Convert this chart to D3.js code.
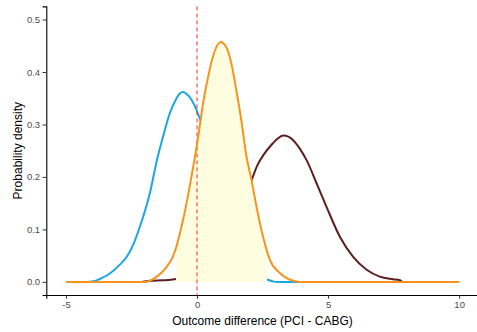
<!DOCTYPE html>
<html>
<head>
<meta charset="utf-8">
<script src="https://cdn.jsdelivr.net/npm/d3@7"></script>
<style>
  body { margin: 0; background: #fff; }
  text { font-family: "Liberation Sans", Arial, sans-serif; }
</style>
</head>
<body>
<svg id="chart"></svg>
<script>
// density curves: [outcome difference, density]
const priorDensity = [
  [-5, 0], [-4.2, 0], [-3.96, 0.001], [-3.6, 0.008], [-3.3, 0.017], [-3.0, 0.03],
  [-2.68, 0.048], [-2.4, 0.075], [-2.18, 0.105], [-2.0, 0.133], [-1.8, 0.169],
  [-1.53, 0.232], [-1.3, 0.276], [-1.04, 0.321], [-0.8, 0.348], [-0.66, 0.359],
  [-0.53, 0.362], [-0.4, 0.358], [-0.28, 0.352], [-0.09, 0.336], [0.1, 0.312],
  [0.3, 0.28], [0.6, 0.22], [1.0, 0.15], [1.5, 0.075], [2.0, 0.03], [2.4, 0.01],
  [2.7, 0.004], [2.9, 0.001], [3.1, 0], [10, 0]
];

const likelihoodDensity = [
  [-5, 0], [-2.1, 0], [-1.95, 0.001], [-1.8, 0.002], [-1.3, 0.003], [-0.85, 0.005],
  [-0.4, 0.015], [0, 0.03], [0.5, 0.055], [1.0, 0.09], [1.5, 0.135], [2.08, 0.194],
  [2.3, 0.222], [2.55, 0.243], [2.8, 0.259], [3.05, 0.272], [3.3, 0.279],
  [3.67, 0.27], [3.92, 0.254], [4.18, 0.232], [4.56, 0.188], [4.94, 0.143],
  [5.45, 0.086], [5.95, 0.048], [6.47, 0.023], [6.97, 0.01], [7.48, 0.005],
  [7.74, 0.003], [7.85, 0], [10, 0]
];

const posteriorDensity = [
  [-5, 0], [-2.0, 0], [-1.87, 0.001], [-1.53, 0.01], [-1.15, 0.029], [-0.92, 0.048],
  [-0.8, 0.065], [-0.68, 0.087], [-0.4, 0.15], [-0.25, 0.19], [-0.09, 0.235],
  [0.04, 0.275], [0.23, 0.34], [0.42, 0.39], [0.61, 0.43], [0.9, 0.457],
  [1.12, 0.447], [1.31, 0.416], [1.5, 0.365], [1.69, 0.308], [1.89, 0.238],
  [2.08, 0.194], [2.27, 0.143], [2.52, 0.086], [2.78, 0.042], [3.16, 0.017],
  [3.67, 0.002], [3.9, 0], [10, 0]
];

// shaded interval under the posterior
const interval = [-0.8, 2.67];

const xTicks = [-5, 0, 5, 10];
const yTicks = [0, 0.1, 0.2, 0.3, 0.4, 0.5];

const width = 477, height = 332;

const svg = d3.select("#chart")
  .attr("width", width)
  .attr("height", height);

const x = d3.scaleLinear().domain([-5.75, 10.75]).range([46.3, 478.8]);
const y = d3.scaleLinear().domain([-0.025, 0.525]).range([295, 6.4]);

const line = d3.line()
  .x(d => x(d[0]))
  .y(d => y(d[1]))
  .curve(d3.curveMonotoneX);

const area = d3.area()
  .x(d => x(d[0]))
  .y0(y(0))
  .y1(d => y(d[1]))
  .curve(d3.curveMonotoneX);

/* -------------------------
   CURVES
-------------------------- */

svg.append("path")
  .attr("d", line(priorDensity))
  .attr("fill", "none")
  .attr("stroke", "#1ba6e3")
  .attr("stroke-width", 2);

svg.append("path")
  .attr("d", line(likelihoodDensity))
  .attr("fill", "none")
  .attr("stroke", "#5e1f1f")
  .attr("stroke-width", 2);

svg.append("clipPath")
  .attr("id", "interval-clip")
  .append("rect")
  .attr("x", x(interval[0]))
  .attr("y", 0)
  .attr("width", x(interval[1]) - x(interval[0]))
  .attr("height", height);

svg.append("path")
  .attr("d", area(posteriorDensity))
  .attr("clip-path", "url(#interval-clip)")
  .attr("fill", "#fffddf");

svg.append("line")
  .attr("x1", x(0)).attr("x2", x(0))
  .attr("y1", y.range()[1]).attr("y2", y.range()[0])
  .attr("stroke", "#e8322f")
  .attr("stroke-width", 1)
  .attr("stroke-dasharray", "4,3");

svg.append("path")
  .attr("d", line(posteriorDensity))
  .attr("fill", "none")
  .attr("stroke", "#f7931e")
  .attr("stroke-width", 2);

/* -------------------------
   AXES
-------------------------- */

const xAxis = svg.append("g")
  .attr("transform", `translate(0,${y.range()[0]})`)
  .call(d3.axisBottom(x).tickValues(xTicks).tickSize(3.7).tickPadding(3)
    .tickFormat(d => d < 0 ? "-" + Math.abs(d) : d));

const yAxis = svg.append("g")
  .attr("transform", `translate(${x.range()[0]},0)`)
  .call(d3.axisLeft(y).tickValues(yTicks).tickSize(3.7).tickPadding(2.5)
    .tickFormat(d3.format(".1f")));

[xAxis, yAxis].forEach(g => {
  g.select(".domain").attr("stroke", "#000").attr("stroke-width", 1.1);
  g.selectAll(".tick line").attr("stroke", "#333");
  g.selectAll(".tick text")
    .attr("fill", "#4d4d4d")
    .style("font-size", "9.5px");
});

svg.append("text")
  .attr("x", (x.range()[0] + x.range()[1]) / 2)
  .attr("y", 325)
  .attr("text-anchor", "middle")
  .attr("fill", "#000")
  .style("font-size", "12px")
  .text("Outcome difference (PCI - CABG)");

svg.append("text")
  .attr("transform", `translate(22,${(y.range()[0] + y.range()[1]) / 2}) rotate(-90)`)
  .attr("text-anchor", "middle")
  .attr("fill", "#000")
  .style("font-size", "12px")
  .text("Probability density");
</script>
</body>
</html>
